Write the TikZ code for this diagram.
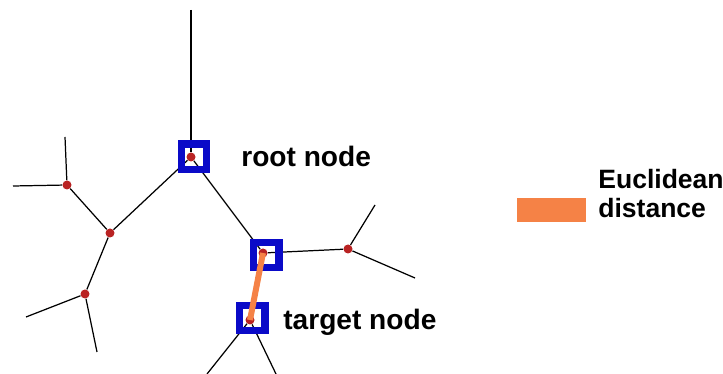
\documentclass[tikz,border=0pt]{standalone}
\usepackage{fontspec}
\setmainfont{Liberation Sans}
\usepackage{tikz}
\usetikzlibrary{positioning}
\definecolor{dotred}{RGB}{185,35,35}
\definecolor{boxblue}{RGB}{10,10,200}
\definecolor{eucorange}{RGB}{245,130,70}
\tikzset{
    treedot/.style={
        circle,
        fill=dotred,
        inner sep=0pt,
        minimum size=0.18cm
    },
    markbox/.style={
        draw=boxblue,
        line width=0.15cm,
        minimum size=0.51cm,
        inner sep=0pt
    },
    branch/.style={
        draw,
        line width=0.7pt
    },
    label text/.style={
        font=\bfseries\fontsize{16}{19}\selectfont,
        inner sep=0pt
    }
}

\begin{document}
\begin{tikzpicture}[x=0.02cm, y=-0.02cm]
    \useasboundingbox (0,0) rectangle (723,374);
    % Vertices
    \node[treedot] (root) at (191,157) {};
    \node[treedot] (l1) at (67,185) {};
    \node[treedot] (l2) at (110,233) {};
    \node[treedot] (l3) at (85,294) {};
    \node[treedot] (r1) at (263,253) {};
    \node[treedot] (r2) at (348,249) {};
    \node[treedot] (tgt) at (250,320) {};

    % Loose ends
    \coordinate (top) at (191,10);
    \coordinate (l1a) at (13,186);
    \coordinate (l1b) at (65,137);
    \coordinate (l3a) at (26,317);
    \coordinate (l3b) at (97,352);
    \coordinate (r2a) at (375,205);
    \coordinate (r2b) at (415,278);
    \coordinate (ta) at (207,374);
    \coordinate (tb) at (276,374);

    % Edges
    \draw[branch] (top) -- (root);
    \draw[branch] (root) -- (l2);
    \draw[branch] (root) -- (r1);
    \draw[branch] (l1a) -- (l1);
    \draw[branch] (l1b) -- (l1);
    \draw[branch] (l1) -- (l2);
    \draw[branch] (l2) -- (l3);
    \draw[branch] (l3) -- (l3a);
    \draw[branch] (l3) -- (l3b);
    \draw[branch] (r1) -- (r2);
    \draw[branch] (r2) -- (r2a);
    \draw[branch] (r2) -- (r2b);
    \draw[branch] (tgt) -- (ta);
    \draw[branch] (tgt) -- (tb);

    % Marked nodes
    \node[markbox] (rootbox) at (194,157) {};
    \node[markbox] (r1box) at (266,255) {};
    \node[markbox] (tgtbox) at (252,318) {};
    \draw[eucorange, line width=0.12cm] (r1.center) -- (tgt.center);

    % Labels
    \node[label text, anchor=base west] (rootlabel) at (241,167) {root node};
    \node[label text, anchor=base west] (tgtlabel) at (283,330) {target node};

    % Legend
    \node[fill=eucorange, minimum width=1.38cm, minimum height=0.48cm,
          inner sep=0pt, anchor=north west] (legkey) at (517,198) {};
    \node[font=\bfseries\fontsize{15.1}{16.5}\selectfont, inner sep=0pt,
          align=left, anchor=north west] (legtext) at (598,169)
          {Euclidean\\distance};
\end{tikzpicture}
\end{document}
